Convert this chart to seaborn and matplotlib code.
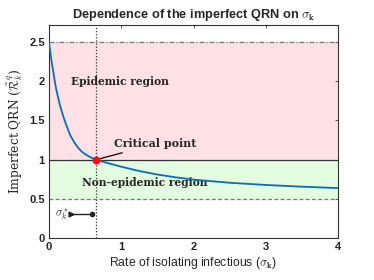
import matplotlib
matplotlib.use("Agg")
import matplotlib.pyplot as plt
import seaborn as sns

# values
sigma_vals = [0.0, 0.01, 0.02, 0.03, 0.045, 0.06, 0.08, 0.1, 0.125, 0.15, 0.185, 0.22, 0.26,
              0.3, 0.35, 0.4, 0.45, 0.5, 0.575, 0.655, 0.73, 0.8, 0.9, 1.0, 1.25, 1.5,
              1.75, 2.0, 2.5, 3.0, 3.5, 4.0]
qrn_vals = [2.5, 2.43, 2.36, 2.29, 2.2, 2.12, 2.0, 1.9, 1.8, 1.7, 1.59, 1.49, 1.39,
            1.3, 1.22, 1.155, 1.105, 1.07, 1.03, 1.0, 0.978, 0.96, 0.935, 0.91, 0.855, 0.81,
            0.775, 0.745, 0.705, 0.677, 0.655, 0.637]

critical_sigma = 0.655
critical_qrn = 1.0
upper_bound = 2.5
lower_bound = 0.5

x_ticks = [0, 1, 2, 3, 4]
y_ticks = [0, 0.5, 1, 1.5, 2, 2.5]
y_tick_labels = ["0", "0.5", "1", "1.5", "2", "2.5"]

sns.set_style("white")
plt.rcParams["font.family"] = ["Liberation Sans", "DejaVu Sans"]
plt.rcParams["mathtext.fontset"] = "cm"

fig = plt.figure(figsize=(3.74, 2.8), dpi=100)
ax = fig.add_axes([0.131, 0.15, 0.773, 0.761])

# regions
ax.axhspan(critical_qrn, upper_bound, color="#ffe1e6", zorder=0)
ax.axhspan(lower_bound, critical_qrn, color="#e2fde0", zorder=0)
ax.axhline(upper_bound, color="#777777", lw=0.9, ls=(0, (4, 1.5, 1, 1.5)), zorder=1)
ax.axhline(lower_bound, color="#777777", lw=0.9, ls=(0, (3, 2)), zorder=1)
ax.axhline(critical_qrn, color="#333333", lw=0.9, zorder=1)
ax.axvline(critical_sigma, color="#333333", lw=0.9, ls=(0, (1, 1.5)), zorder=1)

sns.lineplot(x=sigma_vals, y=qrn_vals, color="#0a6eb4", lw=1.3, ax=ax, zorder=3)
sns.scatterplot(x=[critical_sigma], y=[critical_qrn], color="#ee1111", s=28,
                edgecolor="#ee1111", ax=ax, zorder=4)

serif = ["DejaVu Serif"]
ax.text(0.3, 2.0, "Epidemic region", fontsize=7.7, fontweight="bold",
        family=serif, va="center", ha="left")
ax.text(0.46, 0.71, "Non-epidemic region", fontsize=7.7, fontweight="bold",
        family=serif, va="center", ha="left", zorder=2)
ax.annotate("Critical point", xy=(critical_sigma, critical_qrn), xytext=(0.9, 1.2),
            fontsize=7.9, fontweight="bold", family=serif, va="center", ha="left",
            arrowprops=dict(arrowstyle="-", color="black", lw=0.9, shrinkA=0, shrinkB=0))

# sigma_k^* marker
ax.plot([0.3, 0.6], [0.3, 0.3], color="#222222", lw=1.0)
ax.plot([0.3], [0.3], marker=">", ms=3.5, color="#222222")
ax.plot([0.6], [0.3], marker="o", ms=3, color="#222222")
ax.text(0.28, 0.3, r"$\sigma_k^*$", fontsize=8, ha="right", va="center")

ax.set_xlim(0, 4)
ax.set_ylim(0, 2.72)
ax.set_xticks(x_ticks)
ax.set_xticklabels([str(t) for t in x_ticks], fontweight="bold", fontsize=8)
ax.set_yticks(y_ticks)
ax.set_yticklabels(y_tick_labels, fontweight="bold", fontsize=8)
ax.tick_params(direction="in", length=2.5, width=0.6, top=True, right=True,
               color="#333333", pad=3)
for sp in ax.spines.values():
    sp.set_color("#333333")
    sp.set_linewidth(0.8)

ax.set_title(r"Dependence of the imperfect QRN on $\sigma_\mathbf{k}$",
             fontsize=9.2, fontweight="bold", pad=5)
ax.set_xlabel(r"Rate of isolating infectious ($\sigma_\mathbf{k}$)", fontsize=8.8, labelpad=2)
ax.set_ylabel(r"Imperfect QRN ($\tilde{\mathcal{R}}_k^q$)", fontsize=8.8,
              family=serif, labelpad=3)

fig.savefig("out.png", dpi=100)
